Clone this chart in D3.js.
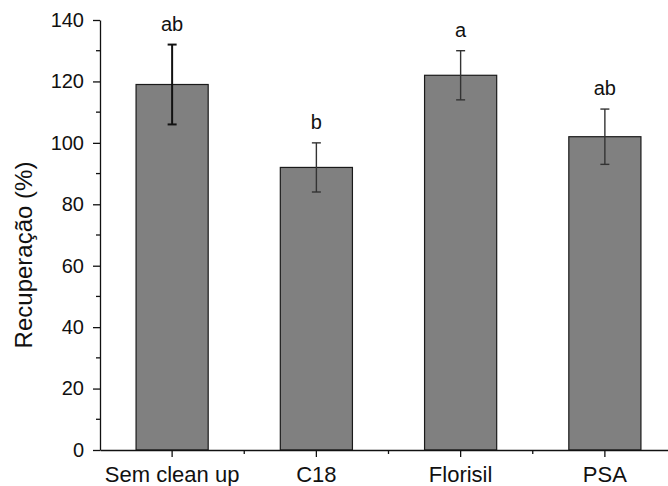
<!DOCTYPE html>
<html>
<head>
<meta charset="utf-8">
<script src="https://cdn.jsdelivr.net/npm/d3@7"></script>
<style>
  body { margin: 0; background: #fff; }
  svg { display: block; }
  .eixo-y text { font-size: 20px; }
  .eixo-x text { font-size: 22px; }
</style>
</head>
<body>
<div id="grafico"></div>
<script>
// valores
var categorias = ["Sem clean up", "C18", "Florisil", "PSA"];
var recuperacao = [119, 92, 122, 102];
var desvio = [13, 8, 8, 9];
var letras = ["ab", "b", "a", "ab"];
var yTicks = [0, 20, 40, 60, 80, 100, 120, 140];
var yMinor = [10, 30, 50, 70, 90, 110, 130];

var width = 668,
    height = 486;
var margin = { left: 100, top: 20, bottom: 36 };

var svg = d3.select("#grafico").append("svg")
    .attr("width", width)
    .attr("height", height)
    .style("background-color", "white")
    .attr("font-family", "Liberation Sans, Arial, sans-serif");

var x = d3.scaleBand()
    .domain(categorias)
    .range([margin.left, margin.left + 577])
    .paddingInner(0.5)
    .paddingOuter(0.25);

var y = d3.scaleLinear()
    .domain([0, 140])
    .range([height - margin.bottom, margin.top]);

var dados = categorias.map(function(c, i) {
    return { cat: c, val: recuperacao[i], sd: desvio[i], letra: letras[i] };
});

// barras
svg.selectAll("rect.barra")
    .data(dados)
    .enter()
    .append("rect")
    .attr("class", "barra")
    .attr("x", function(d) { return x(d.cat) })
    .attr("width", x.bandwidth())
    .attr("y", function(d) { return y(d.val) })
    .attr("height", function(d) { return y(0) - y(d.val) })
    .attr("fill", "#808080")
    .attr("stroke", "#1a1a1a")
    .attr("stroke-width", 1.2);

// barras de erro
var erro = svg.selectAll("g.erro")
    .data(dados)
    .enter()
    .append("g")
    .attr("class", "erro")
    .attr("stroke", function(d, i) { return i === 0 ? "#111" : "#333" })
    .attr("stroke-width", function(d, i) { return i === 0 ? 2 : 1.4 });

erro.append("line")
    .attr("x1", function(d) { return x(d.cat) + x.bandwidth() / 2 })
    .attr("x2", function(d) { return x(d.cat) + x.bandwidth() / 2 })
    .attr("y1", function(d) { return y(d.val + d.sd) })
    .attr("y2", function(d) { return y(d.val - d.sd) });

[1, -1].forEach(function(s) {
    erro.append("line")
        .attr("x1", function(d) { return x(d.cat) + x.bandwidth() / 2 - 4.5 })
        .attr("x2", function(d) { return x(d.cat) + x.bandwidth() / 2 + 4.5 })
        .attr("y1", function(d) { return y(d.val + s * d.sd) })
        .attr("y2", function(d) { return y(d.val + s * d.sd) });
});

// letras de significância
svg.selectAll("text.letra")
    .data(dados)
    .enter()
    .append("text")
    .attr("class", "letra")
    .attr("x", function(d) { return x(d.cat) + x.bandwidth() / 2 })
    .attr("y", function(d) { return y(d.val + d.sd) - 14 })
    .attr("text-anchor", "middle")
    .style("font-size", "20px")
    .style("fill", "#111")
    .text(function(d) { return d.letra });

// eixo y
var eixoY = svg.append("g")
    .attr("class", "eixo-y")
    .attr("transform", "translate(" + margin.left + ",0)")
    .call(d3.axisLeft(y).tickValues(yTicks).tickSize(7).tickSizeOuter(0).tickPadding(9))
    .attr("font-size", 20);

eixoY.append("g")
    .selectAll("line")
    .data(yMinor)
    .enter()
    .append("line")
    .attr("x2", -4)
    .attr("y1", function(d) { return y(d) })
    .attr("y2", function(d) { return y(d) });

// eixo x
var eixoX = svg.append("g")
    .attr("class", "eixo-x")
    .attr("transform", "translate(0," + y(0) + ")")
    .call(d3.axisBottom(x).tickSize(7).tickSizeOuter(0).tickPadding(9))
    .attr("font-size", 22);

eixoX.append("g")
    .selectAll("line")
    .data(categorias.slice(1))
    .enter()
    .append("line")
    .attr("x1", function(d) { return x(d) + x.bandwidth() / 2 - x.step() / 2 })
    .attr("x2", function(d) { return x(d) + x.bandwidth() / 2 - x.step() / 2 })
    .attr("y2", 4);

[eixoX, eixoY].forEach(function(g) {
    g.attr("font-family", "Liberation Sans, Arial, sans-serif");
    g.selectAll("path, line").attr("stroke", "#111").attr("stroke-width", 1.3);
    g.selectAll("text").attr("fill", "#111");
});

// título do eixo y
svg.append("text")
    .attr("transform", "translate(32," + ((y(0) + y(140)) / 2 + 20) + ") rotate(-90)")
    .attr("text-anchor", "middle")
    .style("font-size", "24px")
    .style("fill", "#111")
    .text("Recuperação (%)");
</script>
</body>
</html>
